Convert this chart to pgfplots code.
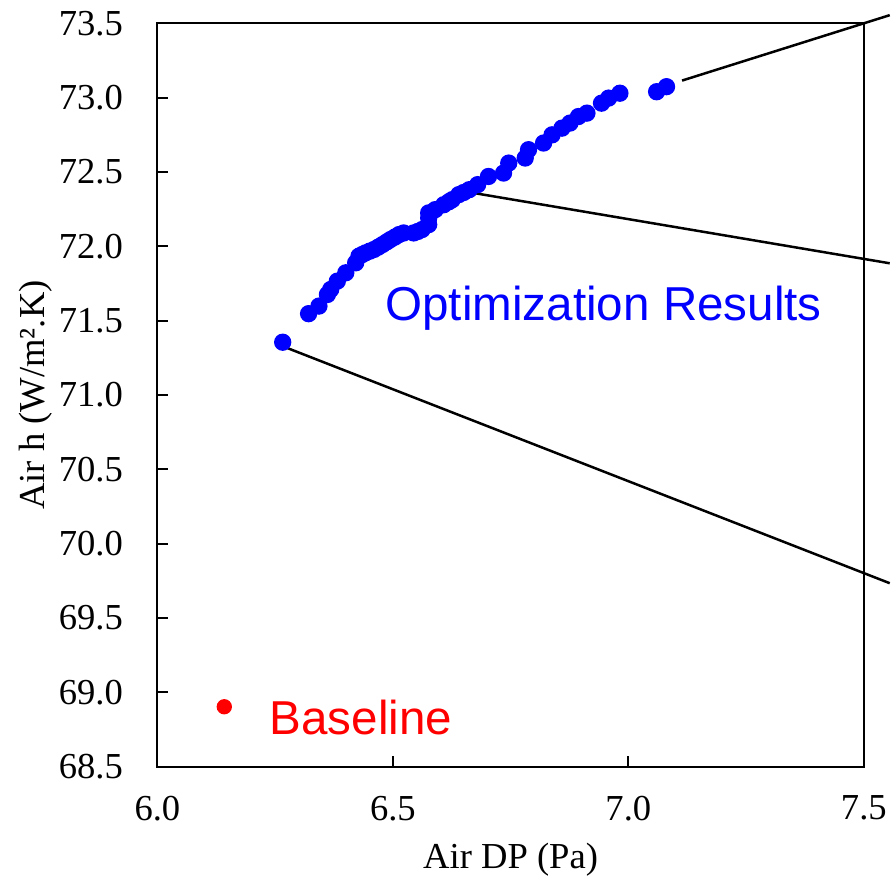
\documentclass[border=0pt]{standalone}
\usepackage{fontspec}
\setmainfont{Liberation Serif}
\newfontfamily\arial{Liberation Sans}
\usepackage{pgfplots}
\pgfplotsset{compat=1.18}

\pgfplotstableread{
x y
6.266 71.355
6.321 71.547
6.343 71.598
6.361 71.676
6.368 71.710
6.382 71.766
6.400 71.822
6.421 71.889
6.428 71.934
6.435 71.945
6.442 71.956
6.451 71.968
6.460 71.979
6.469 71.995
6.478 72.012
6.487 72.030
6.495 72.046
6.504 72.062
6.513 72.079
6.523 72.090
6.544 72.090
6.553 72.100
6.562 72.113
6.576 72.146
6.576 72.190
6.576 72.225
6.590 72.247
6.608 72.280
6.619 72.300
6.626 72.314
6.640 72.348
6.650 72.362
6.662 72.381
6.680 72.415
6.703 72.470
6.735 72.493
6.746 72.560
6.781 72.594
6.788 72.650
6.820 72.695
6.838 72.750
6.859 72.795
6.876 72.829
6.894 72.873
6.912 72.896
6.943 72.963
6.958 72.997
6.982 73.030
7.060 73.040
7.081 73.074
}\optres

\begin{document}
\begin{tikzpicture}
\begin{axis}[
    scale only axis,
    width=212.4pt, height=223.5pt,
    xmin=6, xmax=7.5, ymin=68.5, ymax=73.5,
    xtick={6,6.5,7,7.5},
    ytick={68.5,69,69.5,70,70.5,71,71.5,72,72.5,73,73.5},
    /pgf/number format/fixed,
    /pgf/number format/fixed zerofill,
    /pgf/number format/precision=1,
    /pgf/number format/assume math mode=true,
    tick label style={font=\fontsize{11}{13}\selectfont},
    xticklabel style={inner xsep=0pt, inner ysep=0pt, yshift=-8.6pt},
    yticklabel style={inner xsep=0pt, inner ysep=3.3pt, xshift=-10.2pt},
    tick align=inside, xtick pos=bottom, ytick pos=left,
    major tick length=3.1pt,
    axis line style={line width=0.6pt},
    every tick/.style={black, line width=0.6pt},
    label style={font=\fontsize{11}{13}\selectfont},
    xlabel={Air DP (Pa)},
    xlabel style={at={(axis description cs:0.5,-0.1369)}, anchor=base, inner sep=0pt},
    ylabel={Air h (W/m².K)},
    ylabel style={at={(axis description cs:-0.1596,0.5)}, anchor=base, inner xsep=0pt, inner ysep=5.8pt},
    clip=false,
]
% connector lines
\addplot[black, line width=0.75pt] coordinates {(7.114,73.115) (7.555,73.555)};
\addplot[black, line width=0.75pt] coordinates {(6.673,72.358) (7.555,71.886)};
\addplot[black, line width=0.75pt] coordinates {(6.266,71.328) (7.555,69.734)};
% optimization results
\addplot[only marks, mark=*, mark size=2.4pt, color=blue, fill=blue] table {\optres};
% baseline
\addplot[only marks, mark=*, mark size=2.1pt, color=red, fill=red] coordinates {(6.142,68.903)};
\node[anchor=base west, inner sep=0pt, text=blue, font=\arial\fontsize{14.3}{16}\selectfont]
    at (axis cs:6.483,71.502) {Optimization Results};
\node[anchor=base west, inner sep=0pt, text=red, font=\arial\fontsize{14.3}{16}\selectfont]
    at (axis cs:6.237,68.717) {Baseline};
\end{axis}
\end{tikzpicture}
\end{document}
